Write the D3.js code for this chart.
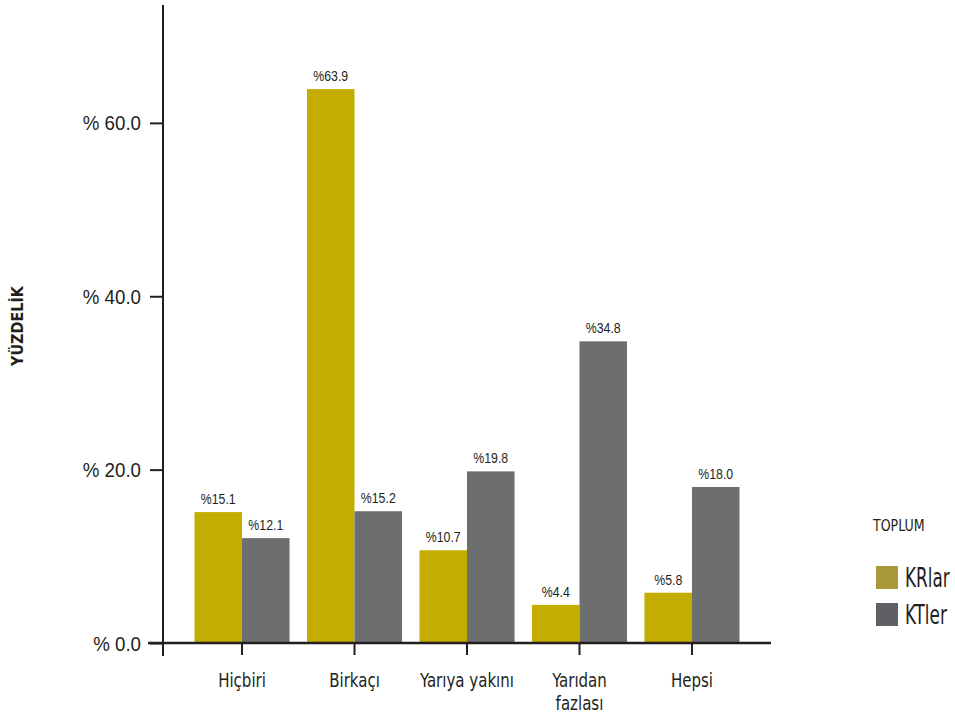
<!DOCTYPE html>
<meta charset="utf-8">
<style>
body { margin: 0; background: #fff; }
.num { font-family: "Liberation Sans", Arial, sans-serif; fill: #231f20; }
.cond { font-family: "DejaVu Sans Condensed", "DejaVu Sans", sans-serif; fill: #231f20; }
</style>
<body>
<div class="canvas"></div>
</body>
<script src="https://cdn.jsdelivr.net/npm/d3@7"></script>
<script>

var categories = ["Hiçbiri", "Birkaçı", "Yarıya yakını", "Yarıdan fazlası", "Hepsi"];
var series = ["KRlar", "KTler"];
var krValues = [15.1, 63.9, 10.7, 4.4, 5.8];
var ktValues = [12.1, 15.2, 19.8, 34.8, 18.0];
var yTicks = [0, 20, 40, 60];

var barColors = ["#c4ad00", "#6d6e70"];
var legendColors = ["#a8983a", "#5f6063"];

var w = 955, h = 717;

var svg = d3.select(".canvas").append("svg")
    .attr("width", w)
    .attr("height", h);

var y = d3.scaleLinear().domain([0, 73.6]).range([643, 5]);

var x = d3.scaleBand()
    .domain(categories)
    .range([163, 771])
    .paddingInner(0.155)
    .paddingOuter(0.28);

var xs = d3.scaleBand().domain(series).range([0, x.bandwidth()]);

var rows = categories.map(function(c, i) {
  return { cat: c, vals: [krValues[i], ktValues[i]] };
});

// bars
var g = svg.selectAll(".grp")
    .data(rows)
  .enter().append("g")
    .attr("transform", function(d) { return "translate(" + x(d.cat) + ",0)"; });

g.selectAll("rect")
    .data(function(d) { return d.vals.map(function(v, j) { return { s: series[j], v: v, j: j }; }); })
  .enter().append("rect")
    .attr("x", function(d) { return xs(d.s); })
    .attr("width", xs.bandwidth())
    .attr("y", function(d) { return y(d.v); })
    .attr("height", function(d) { return y(0) - y(d.v); })
    .attr("fill", function(d) { return barColors[d.j]; });

g.selectAll("text")
    .data(function(d) { return d.vals.map(function(v, j) { return { s: series[j], v: v }; }); })
  .enter().append("text")
    .attr("class", "num")
    .attr("transform", function(d) {
      return "translate(" + (xs(d.s) + xs.bandwidth() / 2) + "," + (y(d.v) - 8) + ") scale(0.88,1)";
    })
    .attr("text-anchor", "middle")
    .style("font-size", "14px")
    .text(function(d) { return "%" + d.v.toFixed(1); });

// y axis
var yAxis = d3.axisLeft(y)
    .tickValues(yTicks)
    .tickSize(13)
    .tickPadding(9)
    .tickFormat(function(d) { return "% " + d.toFixed(1); });

var ya = svg.append("g")
    .attr("transform", "translate(163,0)")
    .call(yAxis);
ya.select(".domain").remove();
ya.append("line")
    .attr("x1", 0).attr("x2", 0)
    .attr("y1", 5).attr("y2", 656)
    .attr("stroke", "#231f20").attr("stroke-width", 2);
ya.selectAll(".tick line").attr("stroke", "#231f20").attr("stroke-width", 2);
ya.selectAll(".tick text")
    .attr("class", "num")
    .attr("x", null).attr("dy", null)
    .attr("transform", "translate(-22,7) scale(0.96,1)")
    .style("font-size", "19.5px")
    .attr("fill", "#231f20");

// x axis
var xAxis = d3.axisBottom(x).tickSize(12).tickPadding(0).tickFormat("");
var xa = svg.append("g")
    .attr("transform", "translate(0,643)")
    .call(xAxis);
xa.select(".domain").remove();
xa.append("line")
    .attr("x1", 148).attr("x2", 771)
    .attr("stroke", "#231f20").attr("stroke-width", 2.5);
xa.selectAll(".tick line").attr("stroke", "#231f20").attr("stroke-width", 2);

var labelLines = {
  "Yarıdan fazlası": ["Yarıdan", "fazlası"]
};
xa.selectAll(".tick").each(function(d) {
  var lines = labelLines[d] || [d];
  var t = d3.select(this).append("text")
      .attr("class", "cond")
      .attr("text-anchor", "middle")
      .attr("transform", "scale(0.88,1)")
      .style("font-size", "19px");
  lines.forEach(function(l, i) {
    t.append("tspan").attr("x", 0).attr("y", 44 + i * 23).text(l);
  });
});

// y title
svg.append("text")
    .attr("class", "cond")
    .attr("transform", "translate(23,326) rotate(-90)")
    .attr("text-anchor", "middle")
    .style("font-size", "16px")
    .style("font-weight", "bold")
    .text("YÜZDELİK");

// legend
var lg = svg.append("g").attr("transform", "translate(873,0)");
lg.append("text")
    .attr("class", "cond")
    .attr("transform", "translate(0,531) scale(0.85,1)")
    .style("font-size", "16.5px")
    .text("TOPLUM");

var li = lg.selectAll(".li")
    .data(series)
  .enter().append("g")
    .attr("transform", function(d, i) { return "translate(3," + (566 + i * 37) + ")"; });
li.append("rect")
    .attr("width", 22).attr("height", 23)
    .attr("fill", function(d, i) { return legendColors[i]; });
li.append("text")
    .attr("class", "cond")
    .attr("transform", "translate(29,21) scale(0.72,1)")
    .style("font-size", "26px")
    .text(function(d) { return d; });

</script>
